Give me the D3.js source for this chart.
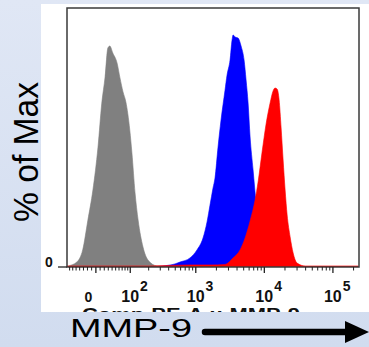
<!DOCTYPE html>
<html>
<head>
<meta charset="utf-8">
<script src="https://cdn.jsdelivr.net/npm/d3@7"></script>
<style>
  html, body { margin: 0; padding: 0; background: #dae3f3; }
  svg { display: block; }
</style>
</head>
<body>
<svg id="chart" width="369" height="347"></svg>
<script>
// ---------- data ----------
// intensity values (Comp-PE-A) and % of Max
const grayX = [-79, -76, -48, -32, -19, -7, 5, 14, 22, 29, 34, 42, 54, 63, 73, 83, 98, 107, 121, 136, 163, 195, 267, 418];
const grayY = [0, 0.2, 1.9, 6.6, 18.1, 29.7, 46.3, 63.3, 73.4, 84.6, 85.3, 82.6, 78.8, 73.0, 67.6, 63.7, 52.9, 44.0, 28.6, 18.1, 7.7, 2.7, 0.4, 0];

const blueX = [209, 329, 496, 587, 823, 1042, 1276, 1460, 1614, 1786, 1910, 2113, 2338, 2674, 2860, 3163, 3384, 3499, 3742, 4140, 4580, 5065, 5418, 5796, 6199, 6853, 7581, 8107, 9275, 10607, 12134, 16986, 28127, 46587];
const blueY = [0, 0.4, 1.2, 1.9, 3.5, 6.6, 11.2, 17.4, 23.9, 30.5, 34.4, 46.3, 56.8, 68.3, 74.1, 79.9, 87.6, 89.6, 88.8, 88.4, 85.3, 79.9, 72.2, 63.3, 50.2, 37.5, 24.7, 18.1, 10.4, 5.8, 3.5, 1.5, 0.4, 0];

const redX = [-79, 209, 823, 1614, 2674, 3499, 4428, 5239, 6199, 7330, 8107, 9275, 10607, 12134, 13422, 14357, 15356, 16425, 17566, 18788, 20097, 21494, 23775, 26297, 30083, 39370, 233800];
const redY = [0.4, 0.4, 0.8, 0.8, 1.0, 3.5, 6.6, 11.2, 17.8, 25.9, 32.8, 44.4, 55.2, 63.3, 68.0, 69.1, 68.7, 64.5, 53.7, 41.3, 29.7, 20.1, 11.6, 5.4, 1.5, 0.4, 0.4];

const majorTicks = [0, 100, 1000, 10000, 100000];
const majorExp = ["", "2", "3", "4", "5"];
const minorTicks = [-70, -60, -50, -40, -30, -20, -10, 10, 20, 30, 40, 50, 60, 70, 80, 90,
  200, 300, 400, 500, 600, 700, 800, 900,
  2000, 3000, 4000, 5000, 6000, 7000, 8000, 9000,
  20000, 30000, 40000, 50000, 60000, 70000, 80000, 90000, 200000];
const xDomain = [-79, 240000];
const yDomain = [0, 100];

// ---------- scales ----------
const W = 70; // biexponential width
const T = v => Math.asinh(v / W) / Math.LN10;

const plot = { left: 67, right: 359, top: 8, bottom: 267 };
const xs = d3.scaleLinear().domain([T(xDomain[0]), T(xDomain[1])]).range([plot.left, plot.right]);
const X = v => xs(T(v));
const ys = d3.scaleLinear().domain(yDomain).range([plot.bottom, plot.top]);

const svg = d3.select("#chart");
const defs = svg.append("defs");
const grad = defs.append("linearGradient").attr("id", "bg").attr("x1", 0).attr("y1", 0).attr("x2", 0).attr("y2", 1);
grad.append("stop").attr("offset", "0%").attr("stop-color", "#e0e7f5");
grad.append("stop").attr("offset", "100%").attr("stop-color", "#d1dcef");

defs.append("clipPath").attr("id", "panelClip").append("rect")
  .attr("x", 41).attr("y", 4).attr("width", 328).attr("height", 308);
defs.append("clipPath").attr("id", "plotClip").append("rect")
  .attr("x", plot.left).attr("y", plot.top).attr("width", plot.right - plot.left).attr("height", plot.bottom - plot.top);

// background + white panel
svg.append("rect").attr("width", 369).attr("height", 347).attr("fill", "url(#bg)");
svg.append("rect").attr("x", 41).attr("y", 4).attr("width", 328).attr("height", 308).attr("fill", "#ffffff");

const font = "Arial, 'Liberation Sans', Helvetica, sans-serif";

// partially hidden axis title (cut by panel edge)
svg.append("text")
  .attr("clip-path", "url(#panelClip)")
  .attr("x", 82).attr("y", 320)
  .attr("font-family", font).attr("font-size", 16).attr("font-weight", "bold")
  .attr("textLength", 218).attr("lengthAdjust", "spacingAndGlyphs")
  .attr("fill", "#111")
  .text("Comp-PE-A :: MMP-9");

// histograms
const series = [
  { x: grayX, y: grayY, color: "#808080" },
  { x: blueX, y: blueY, color: "#0000ff" },
  { x: redX, y: redY, color: "#ff0000" }
];
const area = d3.area()
  .x(d => X(d[0]))
  .y0(ys(0))
  .y1(d => ys(d[1]))
  .curve(d3.curveMonotoneX);

const g = svg.append("g").attr("clip-path", "url(#plotClip)");
series.forEach(s => {
  const pts = s.x.map((v, i) => [v, s.y[i]]);
  g.append("path").attr("d", area(pts)).attr("fill", s.color).attr("stroke", s.color).attr("stroke-width", 0.6);
});

// frame
svg.append("rect")
  .attr("x", plot.left).attr("y", plot.top)
  .attr("width", plot.right - plot.left).attr("height", plot.bottom - plot.top)
  .attr("fill", "none").attr("stroke", "#3a3a3a").attr("stroke-width", 1.5);

// x ticks
svg.append("g").selectAll("line.minor").data(minorTicks).join("line")
  .attr("x1", d => X(d)).attr("x2", d => X(d))
  .attr("y1", plot.bottom).attr("y2", plot.bottom + 3.5)
  .attr("stroke", "#222").attr("stroke-width", 1);
svg.append("g").selectAll("line.major").data(majorTicks).join("line")
  .attr("x1", d => X(d)).attr("x2", d => X(d))
  .attr("y1", plot.bottom).attr("y2", plot.bottom + 6)
  .attr("stroke", "#222").attr("stroke-width", 1.3);

// x tick labels
const lab = svg.append("g").attr("font-family", font).attr("font-weight", "bold").attr("fill", "#111");
majorTicks.forEach((v, i) => {
  if (majorExp[i] === "") {
    lab.append("text").attr("x", X(v) - 7.5).attr("y", 302)
      .attr("text-anchor", "middle").attr("font-size", 14).text("0");
  } else {
    const t = lab.append("text").attr("x", X(v) - 9).attr("y", 302).attr("font-size", 16);
    t.append("tspan").text("10");
    t.append("tspan").attr("dy", -11).attr("font-size", 14).attr("dx", 1).text(majorExp[i]);
  }
});

// y axis: single 0 tick
svg.append("line").attr("x1", 58).attr("x2", plot.left).attr("y1", ys(0)).attr("y2", ys(0))
  .attr("stroke", "#222").attr("stroke-width", 1.3);
svg.append("text").attr("x", 49).attr("y", ys(0)).attr("text-anchor", "middle")
  .attr("font-family", font).attr("font-weight", "bold").attr("font-size", 14).attr("fill", "#111").text("0");

// y axis title
svg.append("text")
  .attr("transform", "translate(38,152) scale(1.3,1) rotate(-90)")
  .attr("text-anchor", "middle")
  .attr("font-family", font).attr("font-size", 27)
  .attr("textLength", 140).attr("lengthAdjust", "spacingAndGlyphs")
  .attr("fill", "#000")
  .text("% of Max");

// MMP-9 label and arrow
svg.append("text").attr("x", 70).attr("y", 337)
  .attr("font-family", font).attr("font-size", 26)
  .attr("textLength", 122).attr("lengthAdjust", "spacingAndGlyphs")
  .attr("fill", "#000").text("MMP-9");
svg.append("line").attr("x1", 205).attr("x2", 352).attr("y1", 332).attr("y2", 332)
  .attr("stroke", "#000").attr("stroke-width", 6.5).attr("stroke-linecap", "round");
svg.append("path").attr("d", "M345,321 L369,332 L345,343 Z").attr("fill", "#000");
</script>
</body>
</html>
